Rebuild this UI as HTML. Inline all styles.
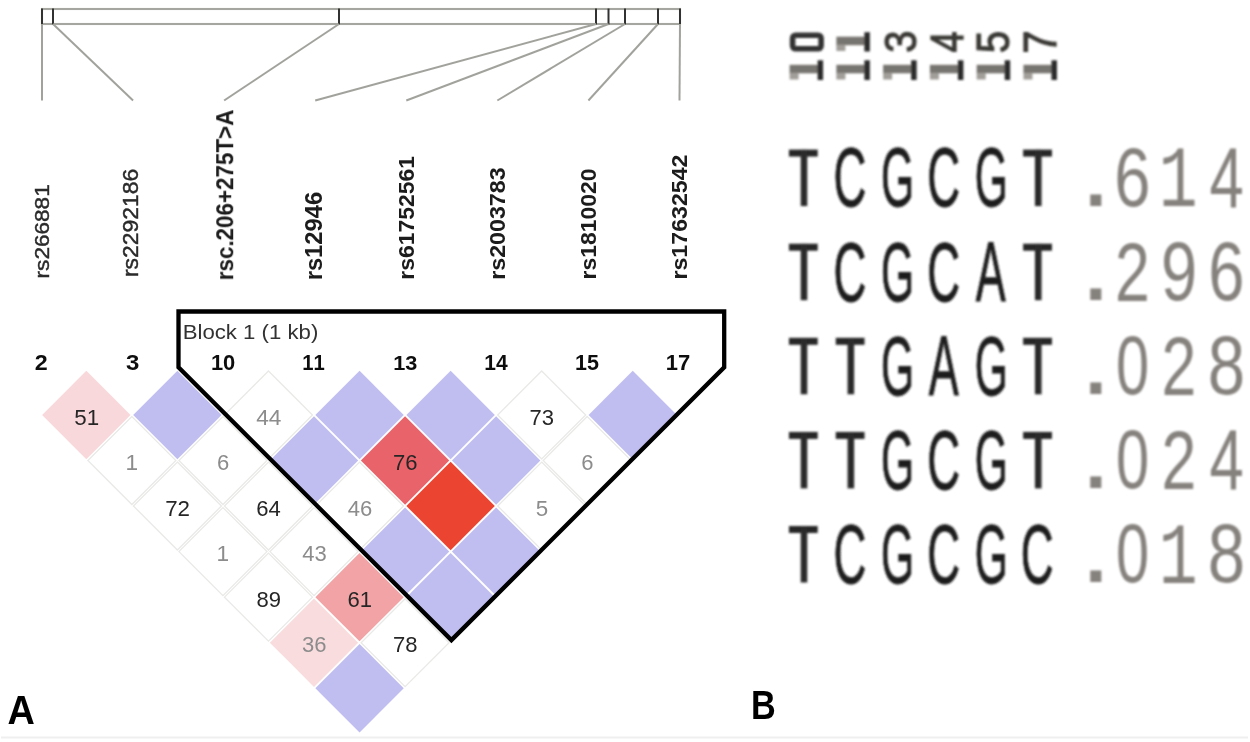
<!DOCTYPE html>
<html><head><meta charset="utf-8"><style>
html,body{margin:0;padding:0;background:#fff;}
svg{display:block;}
text{font-kerning:none;font-size:100px;}
.sf{font-family:"Liberation Sans",sans-serif;}
.sbf{font-family:"Liberation Sans",sans-serif;font-weight:bold;}
.mf{font-family:"Liberation Mono",monospace;}
.mbf{font-family:"Liberation Mono",monospace;font-weight:bold;}
</style></head><body>
<svg width="1250" height="742" viewBox="0 0 1250 742">
<defs><filter id="gb" filterUnits="userSpaceOnUse" x="0" y="0" width="1250" height="742"><feGaussianBlur stdDeviation="0.45"/></filter><filter id="bl" x="-5%" y="-5%" width="110%" height="110%"><feGaussianBlur stdDeviation="0.85"/></filter><filter id="bl2" x="-5%" y="-10%" width="110%" height="120%"><feGaussianBlur stdDeviation="0.9"/></filter></defs>
<rect width="1250" height="742" fill="#fff"/>
<g filter="url(#gb)">
<path d="M268.47 371.00L312.47 415.00L268.47 459.00L224.47 415.00Z" fill="none" stroke="#e9e9e7" stroke-width="1.3"/>
<path d="M541.68 371.00L585.68 415.00L541.68 459.00L497.68 415.00Z" fill="none" stroke="#e9e9e7" stroke-width="1.3"/>
<path d="M131.87 416.53L175.87 460.53L131.87 504.53L87.87 460.53Z" fill="none" stroke="#e9e9e7" stroke-width="1.3"/>
<path d="M222.94 416.53L266.94 460.53L222.94 504.53L178.94 460.53Z" fill="none" stroke="#e9e9e7" stroke-width="1.3"/>
<path d="M587.22 416.53L631.22 460.53L587.22 504.53L543.22 460.53Z" fill="none" stroke="#e9e9e7" stroke-width="1.3"/>
<path d="M177.41 462.07L221.41 506.07L177.41 550.07L133.41 506.07Z" fill="none" stroke="#e9e9e7" stroke-width="1.3"/>
<path d="M268.47 462.07L312.47 506.07L268.47 550.07L224.47 506.07Z" fill="none" stroke="#e9e9e7" stroke-width="1.3"/>
<path d="M359.55 462.07L403.55 506.07L359.55 550.07L315.55 506.07Z" fill="none" stroke="#e9e9e7" stroke-width="1.3"/>
<path d="M541.68 462.07L585.68 506.07L541.68 550.07L497.68 506.07Z" fill="none" stroke="#e9e9e7" stroke-width="1.3"/>
<path d="M222.94 507.61L266.94 551.61L222.94 595.61L178.94 551.61Z" fill="none" stroke="#e9e9e7" stroke-width="1.3"/>
<path d="M314.01 507.61L358.01 551.61L314.01 595.61L270.01 551.61Z" fill="none" stroke="#e9e9e7" stroke-width="1.3"/>
<path d="M268.47 553.14L312.47 597.14L268.47 641.14L224.47 597.14Z" fill="none" stroke="#e9e9e7" stroke-width="1.3"/>
<path d="M405.08 598.67L449.08 642.67L405.08 686.67L361.08 642.67Z" fill="none" stroke="#e9e9e7" stroke-width="1.3"/>
<path d="M86.33 369.17L132.17 415.00L86.33 460.83L40.50 415.00Z" fill="#fff"/>
<path d="M177.41 369.17L223.24 415.00L177.41 460.83L131.57 415.00Z" fill="#fff"/>
<path d="M359.55 369.17L405.38 415.00L359.55 460.83L313.71 415.00Z" fill="#fff"/>
<path d="M450.61 369.17L496.45 415.00L450.61 460.83L404.78 415.00Z" fill="#fff"/>
<path d="M632.75 369.17L678.59 415.00L632.75 460.83L586.92 415.00Z" fill="#fff"/>
<path d="M314.01 414.70L359.84 460.53L314.01 506.37L268.18 460.53Z" fill="#fff"/>
<path d="M405.08 414.70L450.91 460.53L405.08 506.37L359.25 460.53Z" fill="#fff"/>
<path d="M496.15 414.70L541.99 460.53L496.15 506.37L450.31 460.53Z" fill="#fff"/>
<path d="M450.61 460.24L496.45 506.07L450.61 551.90L404.78 506.07Z" fill="#fff"/>
<path d="M405.08 505.77L450.91 551.61L405.08 597.44L359.25 551.61Z" fill="#fff"/>
<path d="M496.15 505.77L541.99 551.61L496.15 597.44L450.32 551.61Z" fill="#fff"/>
<path d="M359.55 551.30L405.38 597.14L359.55 642.98L313.71 597.14Z" fill="#fff"/>
<path d="M450.62 551.30L496.45 597.14L450.62 642.98L404.78 597.14Z" fill="#fff"/>
<path d="M314.01 596.84L359.84 642.67L314.01 688.51L268.18 642.67Z" fill="#fff"/>
<path d="M359.55 642.38L405.38 688.21L359.55 734.05L313.71 688.21Z" fill="#fff"/>
<path d="M86.33 370.80L130.53 415.00L86.33 459.20L42.13 415.00Z" fill="#f9d8db"/>
<path d="M177.41 370.80L221.61 415.00L177.41 459.20L133.20 415.00Z" fill="#c0bef0"/>
<path d="M359.55 370.80L403.75 415.00L359.55 459.20L315.35 415.00Z" fill="#c0bef0"/>
<path d="M450.61 370.80L494.81 415.00L450.61 459.20L406.41 415.00Z" fill="#c0bef0"/>
<path d="M632.75 370.80L676.95 415.00L632.75 459.20L588.55 415.00Z" fill="#c0bef0"/>
<path d="M314.01 416.33L358.21 460.53L314.01 504.73L269.81 460.53Z" fill="#c0bef0"/>
<path d="M405.08 416.33L449.28 460.53L405.08 504.73L360.88 460.53Z" fill="#e9636a"/>
<path d="M496.15 416.33L540.35 460.53L496.15 504.73L451.95 460.53Z" fill="#c0bef0"/>
<path d="M450.61 461.87L494.81 506.07L450.61 550.27L406.41 506.07Z" fill="#eb4431"/>
<path d="M405.08 507.41L449.28 551.61L405.08 595.81L360.88 551.61Z" fill="#c0bef0"/>
<path d="M496.15 507.41L540.35 551.61L496.15 595.81L451.95 551.61Z" fill="#c0bef0"/>
<path d="M359.55 552.94L403.75 597.14L359.55 641.34L315.35 597.14Z" fill="#f1a3a5"/>
<path d="M450.62 552.94L494.81 597.14L450.62 641.34L406.42 597.14Z" fill="#c0bef0"/>
<path d="M314.01 598.47L358.21 642.67L314.01 686.88L269.81 642.67Z" fill="#f9dcdd"/>
<path d="M359.55 644.01L403.75 688.21L359.55 732.41L315.35 688.21Z" fill="#c0bef0"/>
<text class="sf" transform="translate(74.20,424.58) scale(0.2236,0.2236)" fill="#262626">51</text>
<text class="sf" transform="translate(256.14,424.80) scale(0.2267,0.2267)" fill="#8c8c8c">44</text>
<text class="sf" transform="translate(529.55,424.58) scale(0.2203,0.2203)" fill="#262626">73</text>
<text class="sf" transform="translate(125.45,470.33) scale(0.2267,0.2267)" fill="#8c8c8c">1</text>
<text class="sf" transform="translate(216.94,470.12) scale(0.2203,0.2203)" fill="#8c8c8c">6</text>
<text class="sf" transform="translate(392.95,470.12) scale(0.2203,0.2203)" fill="#262626">76</text>
<text class="sf" transform="translate(581.22,470.12) scale(0.2203,0.2203)" fill="#8c8c8c">6</text>
<text class="sf" transform="translate(165.17,515.87) scale(0.2234,0.2234)" fill="#262626">72</text>
<text class="sf" transform="translate(256.18,515.65) scale(0.2203,0.2203)" fill="#262626">64</text>
<text class="sf" transform="translate(347.72,515.65) scale(0.2203,0.2203)" fill="#8c8c8c">46</text>
<text class="sf" transform="translate(535.69,515.65) scale(0.2236,0.2236)" fill="#8c8c8c">5</text>
<text class="sf" transform="translate(216.52,561.40) scale(0.2267,0.2267)" fill="#8c8c8c">1</text>
<text class="sf" transform="translate(302.19,561.19) scale(0.2203,0.2203)" fill="#8c8c8c">43</text>
<text class="sf" transform="translate(256.46,606.72) scale(0.2203,0.2203)" fill="#262626">89</text>
<text class="sf" transform="translate(347.47,606.72) scale(0.2203,0.2203)" fill="#262626">61</text>
<text class="sf" transform="translate(302.02,652.26) scale(0.2203,0.2203)" fill="#8c8c8c">36</text>
<text class="sf" transform="translate(392.94,652.26) scale(0.2203,0.2203)" fill="#262626">78</text>
<path d="M178.5 311.5L724.2 311.5L724.2 367.3L451.4 640.1L178.5 367.3Z" fill="none" stroke="#000" stroke-width="4.3" stroke-linejoin="miter"/>
<text class="sf" transform="translate(182.68,338.73) scale(0.2220,0.2061)" fill="#333">Block 1 (1 kb)</text>
<text class="sbf" transform="translate(34.69,370.20) scale(0.2326,0.2148)" fill="#111">2</text>
<text class="sbf" transform="translate(125.95,369.96) scale(0.2394,0.2114)" fill="#111">3</text>
<text class="sbf" transform="translate(210.92,369.99) scale(0.2192,0.2119)" fill="#111">10</text>
<text class="sbf" transform="translate(302.22,370.20) scale(0.2026,0.2180)" fill="#111">11</text>
<text class="sbf" transform="translate(393.23,369.96) scale(0.2171,0.2114)" fill="#111">13</text>
<text class="sbf" transform="translate(484.17,370.20) scale(0.2107,0.2180)" fill="#111">14</text>
<text class="sbf" transform="translate(575.04,369.99) scale(0.2154,0.2150)" fill="#111">15</text>
<text class="sbf" transform="translate(665.82,370.20) scale(0.2198,0.2180)" fill="#111">17</text>
<rect x="42" y="9" width="638" height="15" fill="none" stroke="#a6a6a1" stroke-width="2.1"/>
<line x1="42" y1="8.5" x2="42" y2="24.5" stroke="#333" stroke-width="2.0"/>
<line x1="53" y1="8.5" x2="53" y2="24.5" stroke="#333" stroke-width="2.0"/>
<line x1="339" y1="8.5" x2="339" y2="24.5" stroke="#333" stroke-width="2.0"/>
<line x1="596" y1="8.5" x2="596" y2="24.5" stroke="#333" stroke-width="2.0"/>
<line x1="608.5" y1="8.5" x2="608.5" y2="24.5" stroke="#333" stroke-width="2.0"/>
<line x1="625" y1="8.5" x2="625" y2="24.5" stroke="#333" stroke-width="2.0"/>
<line x1="658" y1="8.5" x2="658" y2="24.5" stroke="#333" stroke-width="2.0"/>
<line x1="680" y1="8.5" x2="680" y2="24.5" stroke="#333" stroke-width="2.0"/>
<line x1="42" y1="24" x2="42.00" y2="100.5" stroke="#a2a29d" stroke-width="2.0"/>
<line x1="53" y1="24" x2="133.07" y2="100.5" stroke="#a2a29d" stroke-width="2.0"/>
<line x1="339" y1="24" x2="224.14" y2="100.5" stroke="#a2a29d" stroke-width="2.0"/>
<line x1="596" y1="24" x2="315.21" y2="100.5" stroke="#a2a29d" stroke-width="2.0"/>
<line x1="608.5" y1="24" x2="406.28" y2="100.5" stroke="#a2a29d" stroke-width="2.0"/>
<line x1="625" y1="24" x2="497.35" y2="100.5" stroke="#a2a29d" stroke-width="2.0"/>
<line x1="658" y1="24" x2="588.42" y2="100.5" stroke="#a2a29d" stroke-width="2.0"/>
<line x1="680" y1="24" x2="679.49" y2="100.5" stroke="#a2a29d" stroke-width="2.0"/>
<text class="sf" transform="translate(49.11,278.40) rotate(-90) scale(0.2257,0.1949)" fill="#2a2a2a" stroke="#2a2a2a" stroke-width="0.45" vector-effect="non-scaling-stroke">rs266881</text>
<text class="sf" transform="translate(138.49,277.02) rotate(-90) scale(0.2290,0.2119)" fill="#2a2a2a" stroke="#2a2a2a" stroke-width="0.45" vector-effect="non-scaling-stroke">rs2292186</text>
<text class="sbf" transform="translate(233.46,280.28) rotate(-90) scale(0.2241,0.2472)" fill="#1a1a1a">rsc.206+275T&gt;A</text>
<text class="sbf" transform="translate(322.46,280.37) rotate(-90) scale(0.2381,0.2472)" fill="#1a1a1a">rs12946</text>
<text class="sbf" transform="translate(414.39,279.71) rotate(-90) scale(0.2294,0.2175)" fill="#1a1a1a">rs61752561</text>
<text class="sbf" transform="translate(505.16,279.73) rotate(-90) scale(0.2322,0.2171)" fill="#1a1a1a">rs2003783</text>
<text class="sbf" transform="translate(596.09,279.51) rotate(-90) scale(0.2295,0.2161)" fill="#1a1a1a">rs1810020</text>
<text class="sbf" transform="translate(686.96,279.53) rotate(-90) scale(0.2318,0.2157)" fill="#1a1a1a">rs17632542</text>
<text class="sbf" transform="translate(7.46,723.90) scale(0.3786,0.4128)" fill="#000">A</text>
<text class="sbf" transform="translate(751.11,718.80) scale(0.3427,0.3997)" fill="#000">B</text>
<rect x="1" y="736.5" width="1247" height="2" fill="#efefef"/>
<g filter="url(#bl)">
<rect x="788.90" y="149.60" width="28.8" height="7" fill="#262626"/>
<rect x="800.70" y="149.80" width="6.6" height="56.30" fill="#2c2c2c"/>
<text class="sf" transform="translate(833.44,206.48) scale(0.4548,0.8404)" fill="#1e1e1e" stroke="#1e1e1e" stroke-width="0.7" vector-effect="non-scaling-stroke">C</text>
<text class="sf" transform="translate(880.96,206.48) scale(0.4258,0.8404)" fill="#1e1e1e" stroke="#1e1e1e" stroke-width="0.7" vector-effect="non-scaling-stroke">G</text>
<text class="sf" transform="translate(927.14,206.48) scale(0.4548,0.8404)" fill="#1e1e1e" stroke="#1e1e1e" stroke-width="0.7" vector-effect="non-scaling-stroke">C</text>
<text class="sf" transform="translate(974.66,206.48) scale(0.4258,0.8404)" fill="#1e1e1e" stroke="#1e1e1e" stroke-width="0.7" vector-effect="non-scaling-stroke">G</text>
<rect x="1023.15" y="149.60" width="28.8" height="7" fill="#262626"/>
<rect x="1034.95" y="149.80" width="6.6" height="56.30" fill="#2c2c2c"/>
<text class="sf" transform="translate(1079.85,205.80) scale(1.1553,1.0754)" fill="#85817d">.</text>
<text class="sf" transform="translate(1114.20,206.09) scale(0.6502,0.8291)" fill="#85817d">6</text>
<text class="mf" transform="translate(1158.83,206.30) scale(0.6465,0.8729)" fill="#85817d">1</text>
<text class="sf" transform="translate(1209.59,206.90) scale(0.6152,0.8532)" fill="#85817d">4</text>
</g>
<g filter="url(#bl)">
<rect x="788.90" y="243.70" width="28.8" height="7" fill="#262626"/>
<rect x="800.70" y="243.90" width="6.6" height="56.30" fill="#2c2c2c"/>
<text class="sf" transform="translate(833.44,300.58) scale(0.4548,0.8404)" fill="#1e1e1e" stroke="#1e1e1e" stroke-width="0.7" vector-effect="non-scaling-stroke">C</text>
<text class="sf" transform="translate(880.96,300.58) scale(0.4258,0.8404)" fill="#1e1e1e" stroke="#1e1e1e" stroke-width="0.7" vector-effect="non-scaling-stroke">G</text>
<text class="sf" transform="translate(927.14,300.58) scale(0.4548,0.8404)" fill="#1e1e1e" stroke="#1e1e1e" stroke-width="0.7" vector-effect="non-scaling-stroke">C</text>
<text class="sf" transform="translate(975.71,300.80) scale(0.4494,0.8474)" fill="#1e1e1e" stroke="#1e1e1e" stroke-width="0.7" vector-effect="non-scaling-stroke">A</text>
<rect x="1023.15" y="243.70" width="28.8" height="7" fill="#262626"/>
<rect x="1034.95" y="243.90" width="6.6" height="56.30" fill="#2c2c2c"/>
<text class="sf" transform="translate(1079.85,299.90) scale(1.1553,1.0754)" fill="#85817d">.</text>
<text class="sf" transform="translate(1115.10,301.00) scale(0.6256,0.8407)" fill="#85817d">2</text>
<text class="sf" transform="translate(1160.96,300.19) scale(0.6495,0.8291)" fill="#85817d">9</text>
<text class="sf" transform="translate(1208.20,300.19) scale(0.6502,0.8291)" fill="#85817d">6</text>
</g>
<g filter="url(#bl)">
<rect x="788.90" y="337.80" width="28.8" height="7" fill="#262626"/>
<rect x="800.70" y="338.00" width="6.6" height="56.30" fill="#2c2c2c"/>
<rect x="835.75" y="337.80" width="28.8" height="7" fill="#262626"/>
<rect x="847.55" y="338.00" width="6.6" height="56.30" fill="#2c2c2c"/>
<text class="sf" transform="translate(880.96,394.68) scale(0.4258,0.8404)" fill="#1e1e1e" stroke="#1e1e1e" stroke-width="0.7" vector-effect="non-scaling-stroke">G</text>
<text class="sf" transform="translate(928.86,394.90) scale(0.4494,0.8474)" fill="#1e1e1e" stroke="#1e1e1e" stroke-width="0.7" vector-effect="non-scaling-stroke">A</text>
<text class="sf" transform="translate(974.66,394.68) scale(0.4258,0.8404)" fill="#1e1e1e" stroke="#1e1e1e" stroke-width="0.7" vector-effect="non-scaling-stroke">G</text>
<rect x="1023.15" y="337.80" width="28.8" height="7" fill="#262626"/>
<rect x="1034.95" y="338.00" width="6.6" height="56.30" fill="#2c2c2c"/>
<text class="sf" transform="translate(1079.85,394.00) scale(1.1553,1.0754)" fill="#85817d">.</text>
<text class="sf" transform="translate(1115.92,394.29) scale(0.5962,0.8291)" fill="#85817d">0</text>
<text class="sf" transform="translate(1161.60,395.10) scale(0.6256,0.8407)" fill="#85817d">2</text>
<text class="sf" transform="translate(1207.83,394.29) scale(0.6713,0.8291)" fill="#85817d">8</text>
</g>
<g filter="url(#bl)">
<rect x="788.90" y="431.90" width="28.8" height="7" fill="#262626"/>
<rect x="800.70" y="432.10" width="6.6" height="56.30" fill="#2c2c2c"/>
<rect x="835.75" y="431.90" width="28.8" height="7" fill="#262626"/>
<rect x="847.55" y="432.10" width="6.6" height="56.30" fill="#2c2c2c"/>
<text class="sf" transform="translate(880.96,488.78) scale(0.4258,0.8404)" fill="#1e1e1e" stroke="#1e1e1e" stroke-width="0.7" vector-effect="non-scaling-stroke">G</text>
<text class="sf" transform="translate(927.14,488.78) scale(0.4548,0.8404)" fill="#1e1e1e" stroke="#1e1e1e" stroke-width="0.7" vector-effect="non-scaling-stroke">C</text>
<text class="sf" transform="translate(974.66,488.78) scale(0.4258,0.8404)" fill="#1e1e1e" stroke="#1e1e1e" stroke-width="0.7" vector-effect="non-scaling-stroke">G</text>
<rect x="1023.15" y="431.90" width="28.8" height="7" fill="#262626"/>
<rect x="1034.95" y="432.10" width="6.6" height="56.30" fill="#2c2c2c"/>
<text class="sf" transform="translate(1079.85,488.10) scale(1.1553,1.0754)" fill="#85817d">.</text>
<text class="sf" transform="translate(1115.92,488.39) scale(0.5962,0.8291)" fill="#85817d">0</text>
<text class="sf" transform="translate(1161.60,489.20) scale(0.6256,0.8407)" fill="#85817d">2</text>
<text class="sf" transform="translate(1209.59,489.20) scale(0.6152,0.8532)" fill="#85817d">4</text>
</g>
<g filter="url(#bl)">
<rect x="788.90" y="526.00" width="28.8" height="7" fill="#262626"/>
<rect x="800.70" y="526.20" width="6.6" height="56.30" fill="#2c2c2c"/>
<text class="sf" transform="translate(833.44,582.88) scale(0.4548,0.8404)" fill="#1e1e1e" stroke="#1e1e1e" stroke-width="0.7" vector-effect="non-scaling-stroke">C</text>
<text class="sf" transform="translate(880.96,582.88) scale(0.4258,0.8404)" fill="#1e1e1e" stroke="#1e1e1e" stroke-width="0.7" vector-effect="non-scaling-stroke">G</text>
<text class="sf" transform="translate(927.14,582.88) scale(0.4548,0.8404)" fill="#1e1e1e" stroke="#1e1e1e" stroke-width="0.7" vector-effect="non-scaling-stroke">C</text>
<text class="sf" transform="translate(974.66,582.88) scale(0.4258,0.8404)" fill="#1e1e1e" stroke="#1e1e1e" stroke-width="0.7" vector-effect="non-scaling-stroke">G</text>
<text class="sf" transform="translate(1020.84,582.88) scale(0.4548,0.8404)" fill="#1e1e1e" stroke="#1e1e1e" stroke-width="0.7" vector-effect="non-scaling-stroke">C</text>
<text class="sf" transform="translate(1079.85,582.20) scale(1.1553,1.0754)" fill="#85817d">.</text>
<text class="sf" transform="translate(1115.92,582.49) scale(0.5962,0.8291)" fill="#85817d">0</text>
<text class="mf" transform="translate(1158.83,582.70) scale(0.6465,0.8729)" fill="#85817d">1</text>
<text class="sf" transform="translate(1207.83,582.49) scale(0.6713,0.8291)" fill="#85817d">8</text>
</g>
<g filter="url(#bl2)">
<rect x="789.60" y="64.80" width="29" height="8.5" fill="#77746f"/>
<rect x="789.60" y="72.80" width="9" height="6.70" fill="#a19e99"/>
<rect x="817.60" y="60.30" width="5.5" height="19.70" fill="#2a2a2a"/>
<rect x="792.60" y="35.2" width="28.5" height="13.6" rx="3" fill="none" stroke="#333" stroke-width="5.6"/>
<rect x="836.37" y="64.80" width="29" height="8.5" fill="#77746f"/>
<rect x="836.37" y="72.80" width="9" height="6.70" fill="#a19e99"/>
<rect x="864.37" y="60.30" width="5.5" height="19.70" fill="#2a2a2a"/>
<rect x="836.37" y="36.70" width="29" height="8.5" fill="#77746f"/>
<rect x="836.37" y="44.70" width="9" height="6.30" fill="#a19e99"/>
<rect x="864.37" y="32.20" width="5.5" height="19.30" fill="#2a2a2a"/>
<rect x="883.14" y="64.80" width="29" height="8.5" fill="#77746f"/>
<rect x="883.14" y="72.80" width="9" height="6.70" fill="#a19e99"/>
<rect x="911.14" y="60.30" width="5.5" height="19.70" fill="#2a2a2a"/>
<text class="sf" transform="translate(915.70,52.82) rotate(-90) scale(0.3986,0.4520)" fill="#3a3835" stroke="#3a3835" stroke-width="1.2" vector-effect="non-scaling-stroke">3</text>
<rect x="929.91" y="64.80" width="29" height="8.5" fill="#77746f"/>
<rect x="929.91" y="72.80" width="9" height="6.70" fill="#a19e99"/>
<rect x="957.91" y="60.30" width="5.5" height="19.70" fill="#2a2a2a"/>
<text class="sf" transform="translate(962.91,52.16) rotate(-90) scale(0.3751,0.4651)" fill="#3a3835" stroke="#3a3835" stroke-width="1.2" vector-effect="non-scaling-stroke">4</text>
<rect x="976.68" y="64.80" width="29" height="8.5" fill="#77746f"/>
<rect x="976.68" y="72.80" width="9" height="6.70" fill="#a19e99"/>
<rect x="1004.68" y="60.30" width="5.5" height="19.70" fill="#2a2a2a"/>
<text class="sf" transform="translate(1009.23,52.90) rotate(-90) scale(0.3986,0.4586)" fill="#3a3835" stroke="#3a3835" stroke-width="1.2" vector-effect="non-scaling-stroke">5</text>
<rect x="1023.45" y="64.80" width="29" height="8.5" fill="#77746f"/>
<rect x="1023.45" y="72.80" width="9" height="6.70" fill="#a19e99"/>
<rect x="1051.45" y="60.30" width="5.5" height="19.70" fill="#2a2a2a"/>
<text class="sf" transform="translate(1056.45,53.43) rotate(-90) scale(0.4158,0.4651)" fill="#3a3835" stroke="#3a3835" stroke-width="1.2" vector-effect="non-scaling-stroke">7</text>
</g>
</g>
</svg>
</body></html>
